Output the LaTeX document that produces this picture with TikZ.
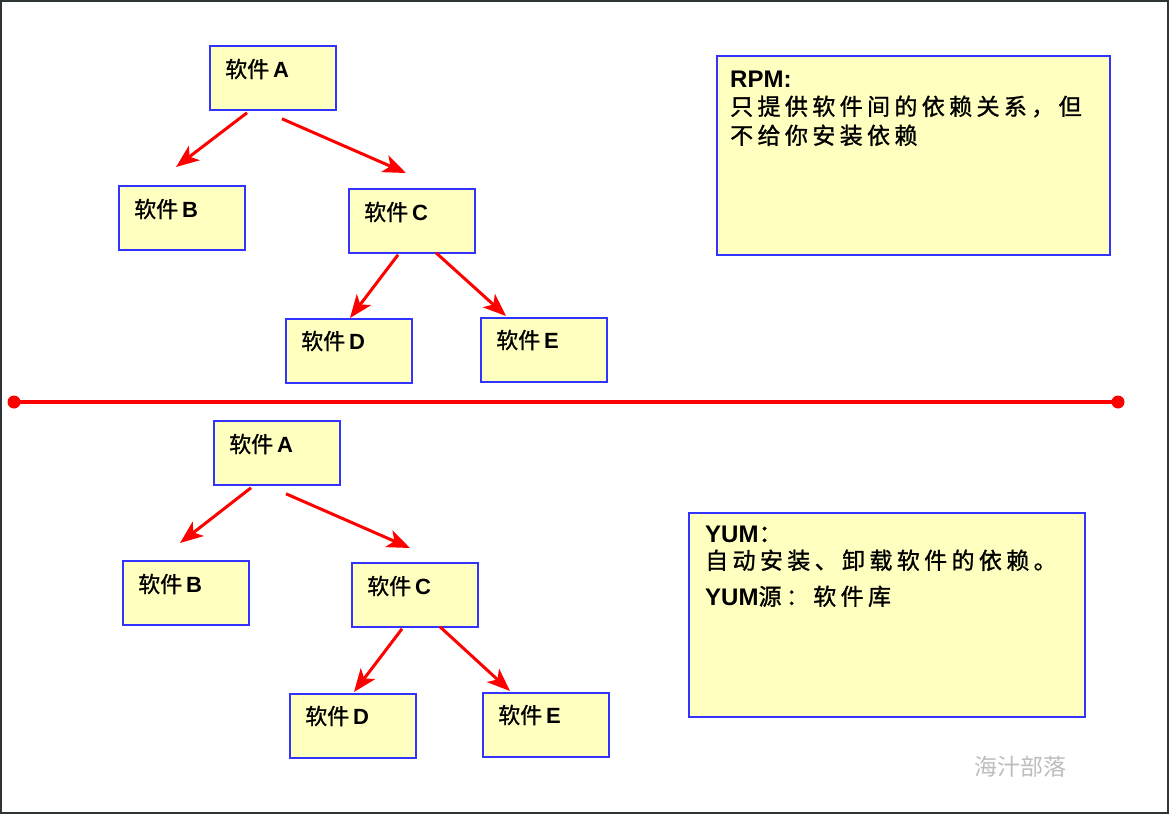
\documentclass[tikz,border=0pt]{standalone}
\usepackage{fontspec}
\setmainfont{Liberation Sans}
\newfontfamily\cjk[FakeBold=1.2]{Noto Sans CJK SC}
\newfontfamily\cjkdesc[LetterSpace=19,FakeBold=1.2]{Noto Sans CJK SC}
\newfontfamily\cjkwm{Noto Sans CJK SC}
\usetikzlibrary{calc,arrows.meta}
\definecolor{boxfill}{HTML}{FFFFC0}
\definecolor{boxline}{HTML}{3333FF}
\definecolor{frameC}{HTML}{2F3436}
\definecolor{wmark}{HTML}{BDBDBD}
\newcommand\lab[1]{{\cjk 软件}\hspace{4pt}\textbf{#1}}
\tikzset{
  sbox/.style={draw=boxline, line width=1.8pt, fill=boxfill, anchor=north west, inner sep=0pt, minimum width=126pt, minimum height=64pt},
  dbox/.style={draw=boxline, line width=1.8pt, fill=boxfill, anchor=north west, inner sep=0pt},
  lbl/.style={anchor=west, inner sep=0pt, font=\fontsize{22}{26}\selectfont},
  dtxt/.style={anchor=base west, inner sep=0pt, font=\fontsize{23}{28}\selectfont},
  arr/.style={draw=red, line width=3pt, -{Stealth[length=23pt,width=18pt,inset=6pt]}},
}
\begin{document}
\begin{tikzpicture}[x=1pt,y=-1pt]
\useasboundingbox (0,0) rectangle (1169,814);
\draw[frameC, line width=2.5pt] (1,1) rectangle (1168,813);

% ---------- top tree ----------
\node[sbox] (tA) at (209,45) {};
\node[sbox] (tB) at (118,185) {};
\node[sbox] (tC) at (348,188) {};
\node[sbox] (tD) at (285,318) {};
\node[sbox] (tE) at (480,317) {};
\node[lbl] (tAl) at ($(tA.north west)+(16,24)$) {\lab{A}};
\node[lbl] (tBl) at ($(tB.north west)+(16,24)$) {\lab{B}};
\node[lbl] (tCl) at ($(tC.north west)+(16,24)$) {\lab{C}};
\node[lbl] (tDl) at ($(tD.north west)+(16,23)$) {\lab{D}};
\node[lbl] (tEl) at ($(tE.north west)+(16,23)$) {\lab{E}};
\draw[arr] ($(tA.south west)+(38,2)$) -- ($(tB.north west)+(58,-18)$);
\draw[arr] ($(tA.south west)+(73,8)$) -- ($(tC.north west)+(58,-15)$);
\draw[arr] ($(tC.south west)+(50,1)$) -- ($(tD.north west)+(65,0)$);
\draw[arr] ($(tC.south west)+(88,-1)$) -- ($(tE.north west)+(26,-1)$);

\node[dbox, minimum width=393pt, minimum height=199pt] (rpm) at (716,55) {};
\node[dtxt] (rpm1) at ($(rpm.north west)+(14,32)$) {\fontsize{24}{28}\selectfont\textbf{RPM:}};
\node[dtxt] (rpm2) at ($(rpm.north west)+(14,60)$) {\cjkdesc 只提供软件间的依赖关系，但};
\node[dtxt] (rpm3) at ($(rpm.north west)+(14,89)$) {\cjkdesc 不给你安装依赖};

% ---------- separator ----------
\coordinate (sepL) at (14,402);
\coordinate (sepR) at (1118,402);
\draw[red, line width=3.5pt] (sepL) -- (sepR);
\fill[red] (sepL) circle (6.5pt);
\fill[red] (sepR) circle (6.5pt);

% ---------- bottom tree ----------
\node[sbox] (bA) at (213,420) {};
\node[sbox] (bB) at (122,560) {};
\node[sbox] (bC) at (351,562) {};
\node[sbox] (bD) at (289,693) {};
\node[sbox] (bE) at (482,692) {};
\node[lbl] (bAl) at ($(bA.north west)+(16,24)$) {\lab{A}};
\node[lbl] (bBl) at ($(bB.north west)+(16,24)$) {\lab{B}};
\node[lbl] (bCl) at ($(bC.north west)+(16,24)$) {\lab{C}};
\node[lbl] (bDl) at ($(bD.north west)+(16,23)$) {\lab{D}};
\node[lbl] (bEl) at ($(bE.north west)+(16,23)$) {\lab{E}};
\draw[arr] ($(bA.south west)+(38,2)$) -- ($(bB.north west)+(58,-17)$);
\draw[arr] ($(bA.south west)+(73,8)$) -- ($(bC.north west)+(59,-14)$);
\draw[arr] ($(bC.south west)+(51,1)$) -- ($(bD.north west)+(65,-1)$);
\draw[arr] ($(bC.south west)+(89,-1)$) -- ($(bE.north west)+(28,-1)$);

\node[dbox, minimum width=396pt, minimum height=204pt] (yum) at (688,512) {};
\node[dtxt] (yum1) at ($(yum.north west)+(17,30)$) {\fontsize{24}{28}\selectfont\textbf{YUM}{\cjk ：}};
\node[dtxt] (yum2) at ($(yum.north west)+(17,57)$) {\cjkdesc 自动安装、卸载软件的依赖。};
\node[dtxt] (yum3) at ($(yum.north west)+(17,93)$) {\fontsize{24}{28}\selectfont\textbf{YUM}{\cjkdesc\fontsize{23}{28}\selectfont 源：软件库}};

% ---------- watermark ----------
\node[anchor=west, inner sep=0pt, text=wmark, font=\cjkwm\fontsize{23}{26}\selectfont] (wm) at (974,767) {海汁部落};
\end{tikzpicture}
\end{document}
